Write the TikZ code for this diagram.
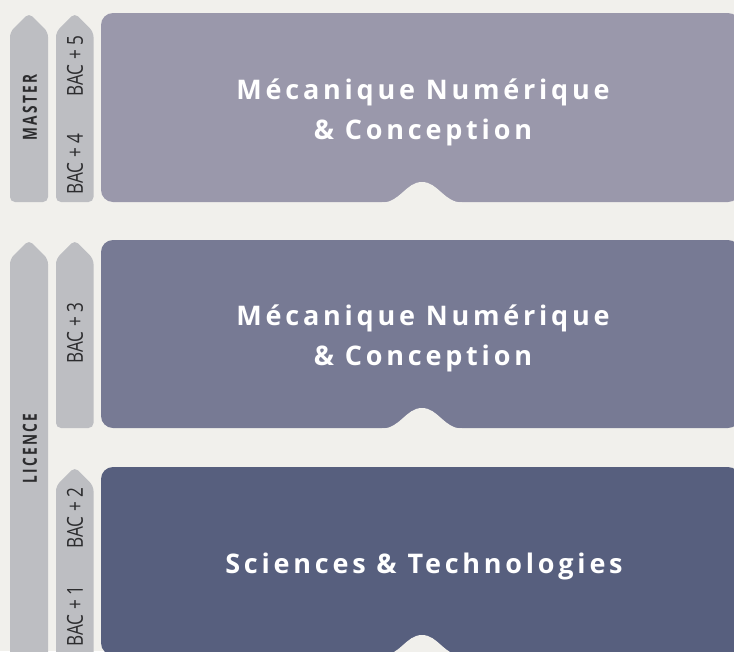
\documentclass[tikz,border=0pt]{standalone}
\usepackage{fontspec}
\setmainfont{Open Sans}
\newfontfamily\titlefont{Open Sans}[LetterSpace=14]
\newfontfamily\levelfont{Open Sans}[FakeStretch=0.7,LetterSpace=12]
\newfontfamily\yearfont{Open Sans}[FakeStretch=0.78]
\definecolor{paper}{HTML}{F1F0EC}
\definecolor{masterbox}{HTML}{9A98AB}
\definecolor{licencebox}{HTML}{777A94}
\definecolor{firstbox}{HTML}{575F7E}
\definecolor{tab}{HTML}{BDBEC2}
\definecolor{tabtext}{HTML}{2C2C2E}
\tikzset{
  tabshape/.style={fill=tab, rounded corners=5pt},
  cardtitle/.style={text=white, inner sep=0pt, anchor=base,
    font=\titlefont\bfseries\fontsize{27}{30}\selectfont},
  leveltext/.style={text=tabtext, rotate=90, inner sep=0pt,
    font=\levelfont\bfseries\fontsize{19.5}{20}\selectfont},
  yeartext/.style={text=tabtext, rotate=90, inner sep=0pt,
    font=\yearfont\fontsize{22}{24}\selectfont},
}
% rounded card with a bell-shaped notch cut into its lower edge
\newcommand{\card}[4]{%
  \fill[#1, rounded corners=12pt] (101,#2) rectangle (740,#3);
  \fill[paper] (#4-40,#3+0.5) .. controls (#4-22,#3+0.5) and (#4-16,#3-20) .. (#4,#3-20)
     .. controls (#4+16,#3-20) and (#4+22,#3+0.5) .. (#4+40,#3+0.5) -- (#4+40,#3+2) -- (#4-40,#3+2) -- cycle;
}
% pointed tab: left x, right x, apex y, bottom y
\newcommand{\tabbar}[4]{%
  \fill[tabshape] (#1,#4) -- (#1,{#3+19}) -- ({(#1+#2)/2},#3) -- (#2,{#3+19}) -- (#2,#4) -- cycle;
}
\begin{document}
\begin{tikzpicture}[x=1pt,y=-1pt]
  \useasboundingbox (0,0) rectangle (734,651);
  \clip (0,0) rectangle (734,651);
  \fill[paper] (0,0) rectangle (734,651);

  % level tabs
  \tabbar{10}{48}{13}{202}
  \tabbar{56}{93.5}{13}{202}
  \tabbar{10}{48}{240}{670}
  \tabbar{56}{93.5}{240}{428}
  \tabbar{56}{93.5}{467}{670}

  % programme cards
  \card{masterbox}{13}{202}{422}
  \card{licencebox}{240}{428}{422}
  \card{firstbox}{467}{655}{422}

  % tab labels
  \node[leveltext] (master) at (30,107.5) {MASTER};
  \node[leveltext] (licence) at (30,448.5) {LICENCE};
  \node[yeartext] (bac5) at (75,66) {BAC + 5};
  \node[yeartext] (bac4) at (75,164) {BAC + 4};
  \node[yeartext] (bac3) at (75,333) {BAC + 3};
  \node[yeartext] (bac2) at (75,518) {BAC + 2};
  \node[yeartext] (bac1) at (75,616) {BAC + 1};

  % card titles
  \node[cardtitle] (mnc1a) at (423,99) {Mécanique Numérique};
  \node[cardtitle] (mnc1b) at (423,139) {\& Conception};
  \node[cardtitle] (mnc2a) at (423,325) {Mécanique Numérique};
  \node[cardtitle] (mnc2b) at (423,365) {\& Conception};
  \node[cardtitle] (st) at (424,573) {Sciences \& Technologies};
\end{tikzpicture}
\end{document}
